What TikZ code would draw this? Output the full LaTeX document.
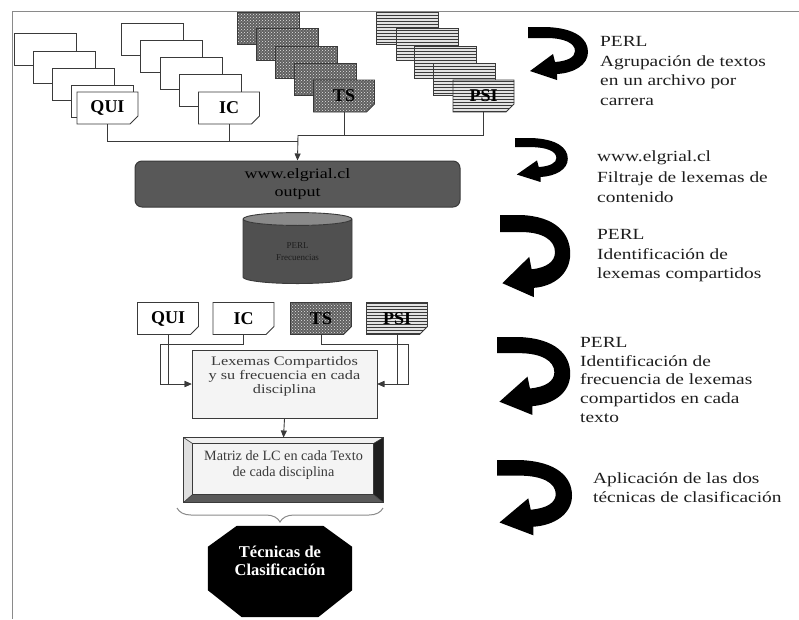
\documentclass[tikz,border=0pt]{standalone}
\usepackage{fontspec}
\setmainfont{Liberation Serif}
\newfontfamily\widefont[FakeStretch=1.25]{Liberation Serif}
\usetikzlibrary{shapes.misc,shapes.geometric,arrows.meta,patterns,decorations.pathreplacing,calc}

\definecolor{edge}{HTML}{3A3A3A}
\definecolor{framegray}{HTML}{8A8A8A}
\definecolor{dotgray}{HTML}{606060}
\definecolor{boxgray}{HTML}{585858}
\definecolor{cylbody}{HTML}{505050}
\definecolor{cyltop}{HTML}{8A8A8A}
\definecolor{paper}{HTML}{F4F4F4}
\definecolor{ink}{HTML}{1E1E1E}

\tikzset{
  % one curved "process" arrow, drawn in a 60 x 53 box (y grows downward)
  uturn/.pic={
    \fill[black] (0,0) -- (18,0) .. controls (48,1) and (60,12) .. (60,25)
      .. controls (60,38) and (46,46) .. (29,47) -- (29,53) -- (2,44) -- (25,27)
      -- (27,35) .. controls (40,34) and (47,30) .. (47,24)
      .. controls (47,16) and (36,11) .. (18,11) -- (0,11) -- cycle;
  },
  sheetbase/.style={rectangle, draw=edge, line width=0.9pt, minimum width=62pt,
    minimum height=32pt, inner sep=0pt, anchor=north west},
  sheet/.style={sheetbase, fill=white},
  dotsheet/.style={sheetbase, preaction={fill=dotgray}, pattern=crosshatch dots,
    pattern color=white!80!gray},
  linesheet/.style={sheetbase, preaction={fill=gray!22}, pattern=horizontal lines,
    pattern color=edge},
  docbase/.style={chamfered rectangle, chamfered rectangle corners=south east,
    chamfered rectangle xsep=5pt, draw=edge, line width=0.9pt, minimum width=61pt,
    minimum height=32pt, inner sep=0pt, font=\fontsize{18}{20}\selectfont\bfseries},
  docsheet/.style={docbase, fill=white},
  docdots/.style={docbase, preaction={fill=dotgray}, pattern=crosshatch dots,
    pattern color=white!80!gray},
  doclines/.style={docbase, preaction={fill=gray!22}, pattern=horizontal lines,
    pattern color=edge},
  link/.style={draw=edge, line width=0.9pt},
  arr/.style={link, -{Triangle[length=7pt,width=6pt]}},
  note/.style={anchor=north west, inner sep=0pt, align=left, text=ink,
    font=\widefont\fontsize{15.5}{19.5}\selectfont},
}

\begin{document}
\begin{tikzpicture}[x=1pt,y=-1pt]
\useasboundingbox (0,0) rectangle (799,619);

% page frame
\draw[framegray, line width=1pt] (12,619) -- (12,11) -- (799,11);

% ---- stacks of texts per career ----
\node[sheet] (qa) at (14,33) {};
\node[sheet] (qb) at (33,51) {};
\node[sheet] (qc) at (52,68) {};
\node[sheet] (qd) at (71,85) {};
\node[docsheet] (qui) at (107.5,108) {QUI};

\node[sheet] (ia) at (121,23) {};
\node[sheet] (ib) at (140,40) {};
\node[sheet] (icc) at (160,57) {};
\node[sheet] (id) at (179,74) {};
\node[docsheet] (ic) at (229,108) {IC};

\node[dotsheet] (ta) at (237,12) {};
\node[dotsheet] (tb) at (256,28) {};
\node[dotsheet] (tc) at (275,46) {};
\node[dotsheet] (td) at (294,63) {};
\node[docdots] (ts) at (344,96) {TS};

\node[linesheet] (pa) at (376,12) {};
\node[linesheet] (pb) at (396,28) {};
\node[linesheet] (pc) at (414,46) {};
\node[linesheet] (pd) at (433,63) {};
\node[doclines] (psi) at (483.5,96) {PSI};

% ---- web filter ----
\node[rectangle, rounded corners=7pt, draw=edge, fill=boxgray, line width=1pt,
  minimum width=325pt, minimum height=46pt, align=center, inner sep=0pt,
  font=\widefont\fontsize{14.4}{18}\selectfont] (web) at (297.5,184)
  {www.elgrial.cl\\output};

\coordinate (jl) at (298,141);
\coordinate (jr) at (298,135);
\draw[link] (qui.south) |- (jl);
\draw[link] (ic.south) |- (jl);
\draw[link] (ts.south) |- (jr);
\draw[link] (psi.south) |- (jr);
\draw[arr] (jr) -- (web.north);

% ---- frequency store ----
\node[cylinder, shape border rotate=90, aspect=0.3, draw=edge, line width=0.9pt,
  cylinder uses custom fill, cylinder body fill=cylbody, cylinder end fill=cyltop,
  minimum width=109pt, minimum height=71pt, inner sep=0pt, align=center,
  text=ink, font=\fontsize{9}{12}\selectfont] (freq) at (297.5,251.5)
  {PERL\\Frecuencias};

% ---- second row of texts ----
\node[docsheet] (qui2) at (168,318.5) {QUI};
\node[docsheet] (ic2) at (243.5,318.5) {IC};
\node[docdots] (ts2) at (321,318.5) {TS};
\node[doclines] (psi2) at (397,318.5) {PSI};

\node[chamfered rectangle, chamfered rectangle corners=south east,
  chamfered rectangle xsep=9pt, draw=edge, fill=paper, line width=0.9pt,
  minimum width=185pt, minimum height=68pt, inner sep=0pt] (lex) at (284.5,384) {};
\node[align=center, inner sep=0pt, text=edge,
  font=\widefont\fontsize{13}{14}\selectfont] (lextxt) at (284.5,376)
  {Lexemas Compartidos\\y su frecuencia en cada\\disciplina};

\coordinate (lbus) at (160,384);
\coordinate (rbus) at (408,384);
\draw[arr] (qui2.south) |- (lex.west);
\draw[arr] (ic2.south) -- ++(0,9) -| (lbus) -- (lex.west);
\draw[arr] (psi2.south) |- (lex.east);
\draw[arr] (ts2.south) -- ++(0,9) -| (rbus) -- (lex.east);

% ---- matrix, bevelled frame ----
\node[rectangle, draw=edge, fill=paper, line width=0.9pt, minimum width=199pt,
  minimum height=64pt, inner sep=0pt] (mat) at (283.5,470) {};
\coordinate (inw) at ($(mat.north west)+(9,6)$);
\coordinate (ine) at ($(mat.north east)+(-10,6)$);
\coordinate (ise) at ($(mat.south east)+(-10,-8)$);
\coordinate (isw) at ($(mat.south west)+(9,-8)$);
\fill[gray!12] (mat.north west) -- (mat.north east) -- (ine) -- (inw) -- cycle;
\fill[gray!25] (mat.north west) -- (inw) -- (isw) -- (mat.south west) -- cycle;
\fill[black!88] (mat.north east) -- (ine) -- (ise) -- (mat.south east) -- cycle;
\fill[black!65] (mat.south west) -- (isw) -- (ise) -- (mat.south east) -- cycle;
\draw[edge, line width=0.6pt] (mat.north west) -- (inw) (mat.north east) -- (ine)
  (mat.south east) -- (ise) (mat.south west) -- (isw);
\draw[edge, line width=0.7pt] (inw) rectangle (ise);
\draw[edge, line width=0.9pt] (mat.north west) rectangle (mat.south east);
\node[align=center, inner sep=0pt, text=edge,
  font=\fontsize{14.2}{16}\selectfont] (mattxt) at (283.5,465)
  {Matriz de LC en cada Texto\\de cada disciplina};

\draw[arr] (lex.south) -- (mat.north);

% ---- classification (octagon drawn from the node's corners) ----
\node[rectangle, minimum width=144pt, minimum height=91pt, inner sep=0pt]
  (oct) at (280,571.5) {};
\fill[black] ($(oct.north west)+(29,0)$) -- ($(oct.north east)+(-29,0)$)
  -- ($(oct.north east)+(0,21)$) -- ($(oct.south east)+(0,-27)$)
  -- ($(oct.south east)+(-34,0)$) -- ($(oct.south west)+(34,0)$)
  -- ($(oct.south west)+(0,-27)$) -- ($(oct.north west)+(0,21)$) -- cycle;
\node[align=center, inner sep=0pt, text=white,
  font=\fontsize{16.5}{18}\selectfont\bfseries] (octtxt) at (280,561)
  {Técnicas de\\Clasificación};

\coordinate (bl) at (177,508);
\coordinate (br) at (383,508);
\draw[framegray, line width=1pt, decorate,
  decoration={brace, mirror, amplitude=14pt}] (bl) -- (br);

% ---- process steps ----
\pic at (528,27) {uturn};
\node[note] (s1) at (600,36.5) {PERL\\Agrupación de textos\\en un archivo por\\carrera};

\pic[xscale=0.88, yscale=0.83] at (515,138) {uturn};
\node[note, font=\widefont\fontsize{15.5}{20.5}\selectfont] (s2) at (597,151)
  {www.elgrial.cl\\Filtraje de lexemas de\\contenido};

\pic[xscale=1.17, yscale=1.55] at (500,215) {uturn};
\node[note] (s3) at (597,229.5) {PERL\\Identificación de\\lexemas compartidos};

\pic[xscale=1.22, yscale=1.47] at (497,337) {uturn};
\node[note, font=\widefont\fontsize{15.5}{18.7}\selectfont] (s4) at (580,337)
  {PERL\\Identificación de\\frecuencia de lexemas\\compartidos en cada\\texto};

\pic[xscale=1.25, yscale=1.42] at (497,460) {uturn};
\node[note, font=\widefont\fontsize{15.5}{19}\selectfont] (s5) at (593,472.5)
  {Aplicación de las dos\\técnicas de clasificación};
\end{tikzpicture}
\end{document}
